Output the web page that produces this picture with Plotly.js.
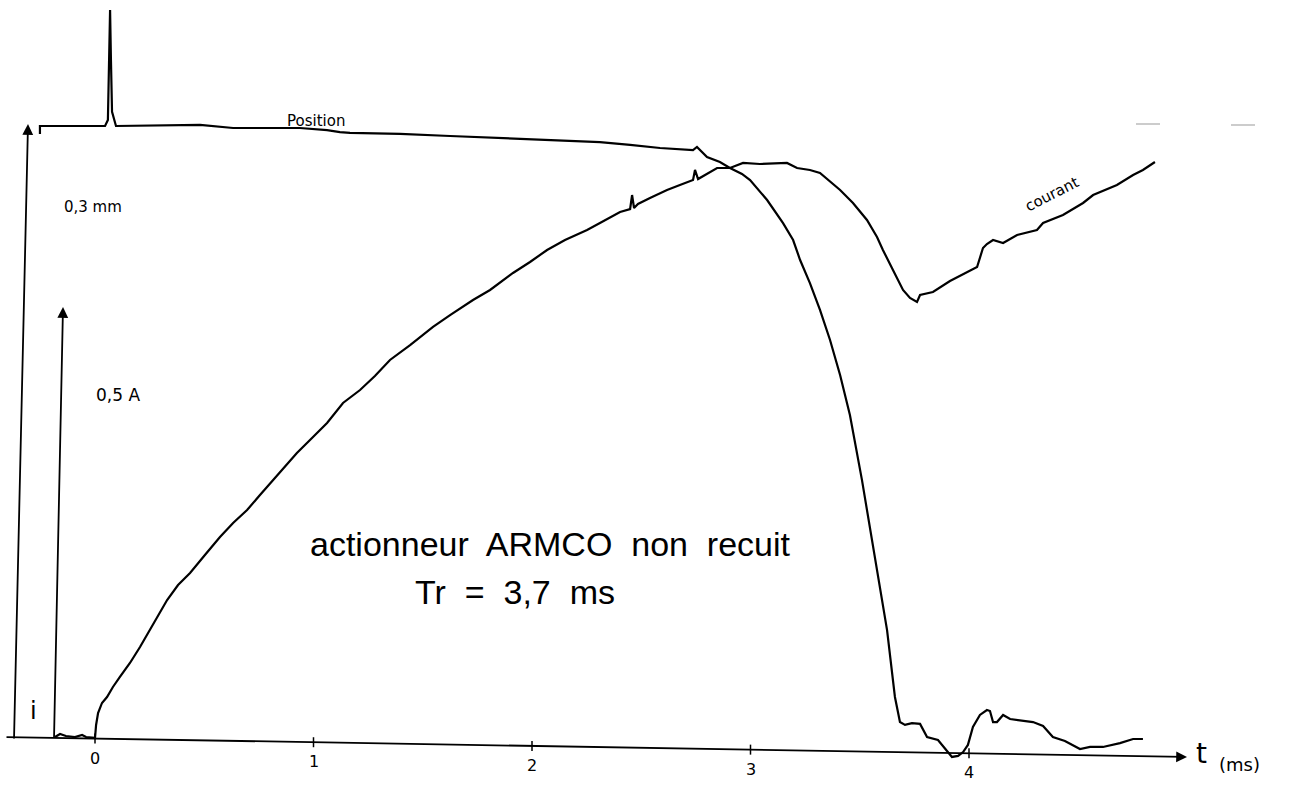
<!DOCTYPE html>
<html>
<head>
<meta charset="utf-8">
<script src="https://cdn.plot.ly/plotly-3.0.1.min.js"></script>
<style>html,body{margin:0;padding:0;background:#fff;}#chart{width:1308px;height:791px;}</style>
</head>
<body>
<div id="chart"></div>
<script>
// ---- data (time in ms, position in mm, current in A) ----
const t_pos = [-0.252,-0.252,-0.069,0.046,0.059,0.069,0.073,0.078,0.096,0.481,0.632,0.938,1.062,1.121,1.167,1.396,1.625,1.854,2.082,2.311,2.449,2.586,2.737,2.755,2.801,2.860,2.906,2.961,2.998,3.076,3.149,3.195,3.227,3.272,3.318,3.364,3.410,3.455,3.510,3.561,3.625,3.661,3.684,3.707,3.739,3.776,3.808,3.858,3.895,3.922,3.950,3.973,3.995,4.018,4.050,4.082,4.096,4.110,4.128,4.156,4.188,4.293,4.339,4.384,4.439,4.508,4.554,4.613,4.691,4.751,4.796];
const position_mm = [0.2966,0.3005,0.3005,0.3005,0.3034,0.3574,0.3328,0.3074,0.3005,0.3010,0.2995,0.2995,0.2985,0.2975,0.2971,0.2966,0.2956,0.2946,0.2936,0.2926,0.2912,0.2897,0.2887,0.2902,0.2853,0.2828,0.2799,0.2770,0.2740,0.2642,0.2529,0.2446,0.2348,0.2235,0.2103,0.1956,0.1784,0.1588,0.1270,0.0941,0.0534,0.0206,0.0083,0.0069,0.0078,0.0074,0.0010,-0.0005,-0.0054,-0.0088,-0.0083,-0.0064,-0.0029,0.0059,0.0118,0.0142,0.0137,0.0083,0.0083,0.0118,0.0098,0.0083,0.0064,0.0010,-0.0010,-0.0049,-0.0039,-0.0039,-0.0020,0.0000,0.0000];

const t_cur = [-0.183,-0.160,-0.133,-0.092,-0.059,-0.041,0.000,0.005,0.014,0.032,0.055,0.082,0.114,0.160,0.206,0.238,0.275,0.330,0.380,0.435,0.503,0.572,0.632,0.696,0.755,0.815,0.870,0.924,0.984,1.062,1.135,1.213,1.281,1.350,1.442,1.547,1.625,1.730,1.808,1.913,1.991,2.069,2.151,2.252,2.311,2.403,2.449,2.458,2.467,2.485,2.540,2.618,2.677,2.737,2.746,2.760,2.792,2.847,2.906,2.966,3.043,3.121,3.167,3.213,3.272,3.318,3.364,3.410,3.469,3.533,3.579,3.606,3.652,3.698,3.730,3.762,3.776,3.835,3.913,3.991,4.037,4.064,4.082,4.110,4.156,4.220,4.311,4.339,4.430,4.522,4.568,4.677,4.751,4.796,4.851];
const current_A = [0.0023,0.0058,0.0035,0.0023,0.0046,0.0023,0.0012,0.0162,0.0301,0.0417,0.0486,0.0602,0.0718,0.0880,0.1065,0.1204,0.1354,0.1609,0.1782,0.1921,0.2130,0.2338,0.2500,0.2650,0.2824,0.2998,0.3160,0.3310,0.3461,0.3657,0.3889,0.4039,0.4201,0.4387,0.4560,0.4769,0.4907,0.5081,0.5197,0.5394,0.5521,0.5660,0.5775,0.5891,0.5972,0.6100,0.6134,0.6296,0.6146,0.6192,0.6262,0.6354,0.6412,0.6470,0.6586,0.6481,0.6528,0.6609,0.6609,0.6667,0.6655,0.6667,0.6667,0.6609,0.6586,0.6551,0.6447,0.6354,0.6204,0.6007,0.5810,0.5660,0.5428,0.5197,0.5104,0.5058,0.5139,0.5174,0.5301,0.5405,0.5463,0.5683,0.5729,0.5775,0.5741,0.5833,0.5891,0.5972,0.6065,0.6204,0.6296,0.6412,0.6528,0.6586,0.6678];

const tick_values = [0, 1, 2, 3, 4];
const tick_labels = ['0', '1', '2', '3', '4'];

// ---- geometry (page pixels) ----
const W = 1308, H = 791;
const X0 = 95, PXMS = 218.5;          // pixel of t=0, pixels per ms
const BASE = 739;                     // baseline pixel row
const PX_MM = 2040, PX_A = 864;       // pixels per mm, per A
const px = x => x / W, py = y => 1 - y / H;
const axisRow = x => 737 + (x - 5) * 20 / 1180;   // the scanned axis is slightly tilted

const traces = [
  {x: t_pos, y: position_mm, type: 'scatter', mode: 'lines', name: 'Position',
   line: {color: '#000', width: 2.2}, yaxis: 'y', hoverinfo: 'skip'},
  {x: t_cur, y: current_A, type: 'scatter', mode: 'lines', name: 'courant',
   line: {color: '#000', width: 2.2}, yaxis: 'y2', hoverinfo: 'skip'}
];

const shapes = [];
const annotations = [];
// tick marks and labels
tick_values.forEach((v, i) => {
  const xp = X0 + v * PXMS, yr = axisRow(xp);
  shapes.push({type: 'line', xref: 'x', yref: 'paper', x0: v, x1: v,
    y0: py(yr - 5), y1: py(yr + 5), line: {color: '#000', width: 1.5}});
  annotations.push({xref: 'x', yref: 'paper', x: v, y: py(yr + 31), text: tick_labels[i],
    showarrow: false, font: {family: 'DejaVu Sans', size: 16, color: '#000'}});
});
// faint dashes top right
shapes.push({type: 'line', xref: 'paper', yref: 'paper', x0: px(1136), x1: px(1160), y0: py(124), y1: py(124), line: {color: '#999', width: 1}});
shapes.push({type: 'line', xref: 'paper', yref: 'paper', x0: px(1231), x1: px(1255), y0: py(125), y1: py(125), line: {color: '#999', width: 1}});

function arrow(x1, y1, x0, y0, w) {
  annotations.push({xref: 'paper', yref: 'paper', x: px(x1), y: py(y1), ax: x0 - x1, ay: y0 - y1,
    text: '', showarrow: true, arrowhead: 2, arrowsize: 1.2, arrowwidth: w, arrowcolor: '#000', standoff: 0});
}
arrow(1187, 757, 5, 737, 1.8);   // time axis
arrow(28, 124, 14, 740, 1.8);    // position scale
arrow(63, 307, 54, 739, 1.8);    // current scale

const hand = {family: 'DejaVu Sans', color: '#000'};
function txt(x, y, s, size, extra) {
  annotations.push(Object.assign({xref: 'paper', yref: 'paper', x: px(x), y: py(y), text: s,
    showarrow: false, font: Object.assign({}, hand, {size: size})}, extra || {}));
}
txt(285, 110, 'Position', 15);
txt(1085, 170, 'courant', 15, {textangle: -27});
txt(62, 196, '0,3 mm', 15);
txt(94, 395, '0,5 A', 17);
txt(28, 727, 'i', 24);
txt(1209, 772, 't', 28);
txt(1262, 777, '(ms)', 18);
const printed = {family: 'Liberation Sans, Arial, sans-serif', size: 34, color: '#000'};
txt(550, 565, 'actionneur\u00A0 ARMCO\u00A0 non\u00A0 recuit', 34, {font: printed});
txt(515, 613, 'Tr\u00A0 =\u00A0 3,7\u00A0 ms', 34, {font: printed});

const layout = {
  width: W, height: H,
  margin: {l: 0, r: 0, t: 0, b: 0, pad: 0},
  paper_bgcolor: '#fff', plot_bgcolor: '#fff',
  showlegend: false,
  xaxis: {range: [-X0 / PXMS, (W - X0) / PXMS], visible: false, fixedrange: true},
  yaxis: {range: [-(H - BASE) / PX_MM, BASE / PX_MM], visible: false, fixedrange: true},
  yaxis2: {range: [-(H - BASE) / PX_A, BASE / PX_A], visible: false, overlaying: 'y', fixedrange: true},
  shapes: shapes,
  annotations: annotations
};

Plotly.newPlot('chart', traces, layout, {displayModeBar: false, staticPlot: true});
</script>
</body>
</html>
